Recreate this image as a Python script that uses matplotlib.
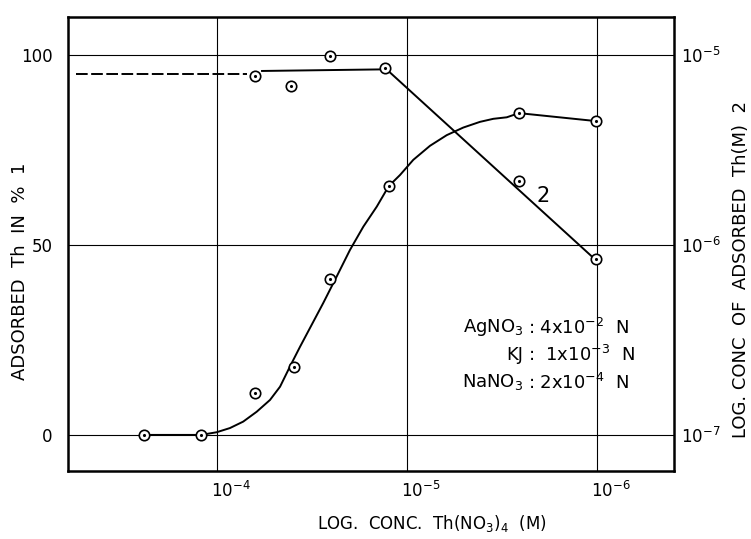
import matplotlib
matplotlib.use("Agg")
import matplotlib.pyplot as plt
import numpy as np
from matplotlib.ticker import NullLocator
from matplotlib.transforms import ScaledTranslation

plt.rcParams['font.family'] = ['DejaVu Sans']

# ==============================================
# curve 1: adsorbed Th in %  (left axis), x given as log10 of Th(NO3)4 conc
c1_logx = [-3.616, -3.916, -4.200, -4.405, -4.595, -4.905, -5.589, -5.995]
c1_pct = [0.0, 0.0, 11.0, 17.9, 41.0, 65.5, 84.7, 82.6]

# hand drawn smooth curve through curve 1
fit1_logx = [-3.616, -3.916, -3.998, -4.068, -4.138, -4.209, -4.279, -4.332, -4.384,
             -4.437, -4.489, -4.559, -4.630, -4.700, -4.770, -4.841, -4.904, -4.963,
             -5.033, -5.121, -5.209, -5.296, -5.384, -5.454, -5.525, -5.589, -5.995]
fit1_pct = [0.0, 0.0, 0.7, 1.8, 3.5, 6.1, 9.2, 12.7, 18.0,
            23.2, 28.1, 34.7, 41.7, 48.7, 54.8, 60.1, 65.5, 68.4,
            72.4, 76.1, 78.9, 80.9, 82.4, 83.2, 83.6, 84.7, 82.6]

# curve 2: log conc of adsorbed Th (M)  (right axis)
c2_logx = [-4.200, -4.390, -4.595, -4.884, -5.589, -5.995]
c2_conc = [7.76e-6, 6.85e-6, 9.86e-6, 8.55e-6, 2.17e-6, 8.4e-7]

# line drawn for curve 2: dashed extrapolation + solid part
c2_dash_logx = [-3.258, -4.158]
c2_dash_conc = [7.9e-6, 7.9e-6]
c2_line_logx = [-4.237, -4.874, -4.884, -5.995]
c2_line_conc = [8.24e-6, 8.4e-6, 8.55e-6, 8.3e-7]

x_ticks = [1e-4, 1e-5, 1e-6]
x_ticklabels = [r"$10^{-4}$", r"$10^{-5}$", r"$10^{-6}$"]
y_ticks = [0, 50, 100]
y2_ticks = [1e-7, 1e-6, 1e-5]
y2_ticklabels = [r"$10^{-7}$", r"$10^{-6}$", r"$10^{-5}$"]

conditions = [("AgNO$_3$", ": 4x10$^{-2}$  N"),
              ("KJ", ":  1x10$^{-3}$  N"),
              ("NaNO$_3$", ": 2x10$^{-4}$  N")]


def conc(logs):
    return [10 ** v for v in logs]


# ==============================================
W, H = 751, 539
fig = plt.figure(figsize=(W / 100, H / 100), dpi=100)
ax = fig.add_axes([68 / W, (H - 471) / H, 606 / W, 454 / H])

ax.set_xscale("log")
ax.set_xlim(10 ** -3.216, 10 ** -6.405)
ax.set_ylim(-9.5, 110)
ax.xaxis.set_minor_locator(NullLocator())
ax.set_xticks(x_ticks, labels=x_ticklabels, fontsize=12)
ax.set_yticks(y_ticks, labels=[str(v) for v in y_ticks], fontsize=12)
ax.tick_params(length=0)
ax.tick_params(axis="y", pad=11)
ax.tick_params(axis="x", pad=7)
offset = ScaledTranslation(-4 / 72, 0, fig.dpi_scale_trans)
for lab in ax.get_xticklabels():
    lab.set_ha("left")
    lab.set_transform(lab.get_transform() + offset)
ax.grid(True, color="black", lw=0.8)
for s in ax.spines.values():
    s.set_linewidth(1.8)

mk = dict(marker="o", ms=7.5, mfc="white", mec="black", mew=1.2, ls="none", zorder=5)
dot = dict(marker=".", ms=2.5, color="black", ls="none", zorder=6)

ax.plot(conc(fit1_logx), fit1_pct, color="black", lw=1.4, zorder=3)
ax.plot(conc(c1_logx), c1_pct, **mk)
ax.plot(conc(c1_logx), c1_pct, **dot)

ax2 = ax.twinx()
ax2.set_yscale("log")
ax2.set_ylim(10 ** (-7 - 9.5 / 50), 10 ** (-7 + 110 / 50))
ax2.yaxis.set_minor_locator(NullLocator())
ax2.set_yticks(y2_ticks, labels=y2_ticklabels, fontsize=12)
ax2.tick_params(length=0, pad=5)
for s in ax2.spines.values():
    s.set_visible(False)

ax2.plot(conc(c2_dash_logx), c2_dash_conc, color="black", lw=1.4, ls=(0, (6, 1.8)))
ax2.plot(conc(c2_line_logx), c2_line_conc, color="black", lw=1.4)
ax2.plot(conc(c2_logx), c2_conc, **mk)
ax2.plot(conc(c2_logx), c2_conc, **dot)

ax.text(10 ** -5.716, 62.9, "2", fontsize=15, ha="center", va="center")

for i, (name, val) in enumerate(conditions):
    y = 0.315 - i * 0.06
    ax.text(0.752, y, name, transform=ax.transAxes, fontsize=13, ha="right", va="center")
    ax.text(0.759, y, val, transform=ax.transAxes, fontsize=13, ha="left", va="center")

fig.text(20 / W, 1 - 271 / H, "ADSORBED  Th  IN  %  1", rotation=90,
         ha="center", va="center", fontsize=13)
fig.text(741 / W, 1 - 270 / H, "LOG. CONC  OF  ADSORBED  Th(M)  2", rotation=90,
         ha="center", va="center", fontsize=13)
fig.text(432 / W, 1 - 524 / H, "LOG.  CONC.  Th(NO$_3$)$_4$  (M)",
         ha="center", va="center", fontsize=12)

plt.savefig("out.png", dpi=100)
